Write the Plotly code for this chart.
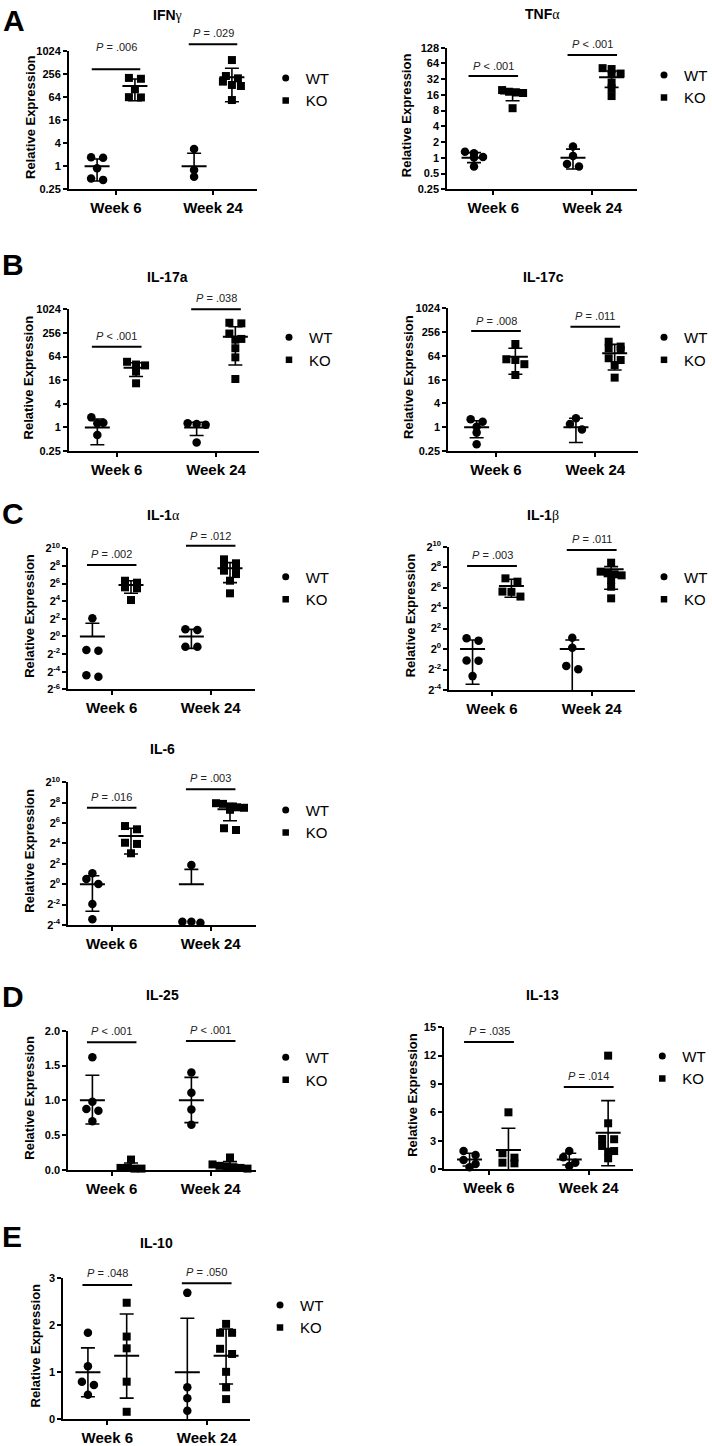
import numpy as np
import plotly.graph_objects as go

W, H = 712, 1446
FONT = "Liberation Sans, Arial, sans-serif"
SERIF = "Liberation Serif, Times New Roman, serif"

# ------------------------------------------------------------------
# Data (relative expression)
# Order of MEAN / HI / LO lists: WT wk6, WT wk24, KO wk6, KO wk24
# HI / LO are the ends of the SD bars (None = bar end not drawn)
# ------------------------------------------------------------------
WEEKS = ["Week 6", "Week 24"]
GROUPS = ["WT", "KO"]

# A - IFN-gamma
IFNG_WT6 = [1.70, 1.65, 0.88, 0.44, 0.48]
IFNG_WT24 = [2.81, 0.80, 0.53]
IFNG_KO6 = [200, 190, 101, 63, 62]
IFNG_KO24 = [584, 224, 195, 160, 131, 123, 53]
IFNG_MEAN = [1.0, 1.0, 123, 208]
IFNG_HI = [1.54, 2.17, 187, 357]
IFNG_LO = [0.41, None, 50.9, 47.8]
IFNG_P = ["= .006", "= .029"]

# A - TNF-alpha
TNFA_WT6 = [1.31, 1.22, 1.04, 1.02, 0.68]
TNFA_WT24 = [1.64, 1.09, 0.68, 0.76]
TNFA_KO6 = [19.8, 18.4, 17.8, 17.4, 8.9]
TNFA_KO24 = [52, 50, 41, 40, 27.5, 21.4, 15.2]
TNFA_MEAN = [1.0, 1.0, 17.1, 34.8]
TNFA_HI = [1.26, 1.47, 20.5, 45.9]
TNFA_LO = [0.81, 0.61, 12.4, 22.3]
TNFA_P = ["&lt; .001", "&lt; .001"]

# B - IL-17a
IL17A_WT6 = [1.80, 1.32, 1.27, 0.64]
IL17A_WT24 = [1.27, 1.22, 1.17, 0.41]
IL17A_KO6 = [47, 40, 38, 26.4, 13.3]
IL17A_KO24 = [465, 449, 247, 180, 172, 104, 61, 17.1]
IL17A_MEAN = [1.0, 1.0, 33.1, 205]
IL17A_HI = [1.64, 1.35, 44.6, 367]
IL17A_LO = [0.36, 0.62, 19.8, 38.9]
IL17A_P = ["&lt; .001", "= .038"]

# B - IL-17c
IL17C_WT6 = [1.59, 1.38, 1.03, 0.73, 0.37]
IL17C_WT24 = [1.68, 1.21, 0.88]
IL17C_KO6 = [128, 52.4, 50.2, 39.4, 21.0]
IL17C_KO24 = [146, 110, 99.7, 90.5, 55.7, 50.2, 37.5, 18.0]
IL17C_MEAN = [1.0, 1.0, 61, 74.5]
IL17C_HI = [1.46, 1.68, 99.7, 125]
IL17C_LO = [0.54, 0.41, 21.9, 28.0]
IL17C_P = ["= .008", "= .011"]

# C - IL-1alpha
IL1A_WT6 = [4.14, 0.325, 0.344, 0.042, 0.047]
IL1A_WT24 = [1.66, 1.75, 0.44, 0.445]
IL1A_KO6 = [68.6, 79.9, 44.0, 47.5, 17.5]
IL1A_KO24 = [430, 315, 274, 239, 176, 135, 80, 29.7]
IL1A_MEAN = [1.0, 1.0, 56.9, 212]
IL1A_HI = [2.81, 1.74, 79.9, 331]
IL1A_LO = [None, 0.39, 29.7, 68.6]
IL1A_P = ["= .002", "= .012"]

# C - IL-1beta
IL1B_WT6 = [2.07, 1.77, 0.46, 0.455, 0.16]
IL1B_WT24 = [2.16, 1.10, 0.255, 0.32]
IL1B_KO6 = [120, 96, 49, 48, 35]
IL1B_KO24 = [347, 189, 169, 158, 147, 108, 68, 31]
IL1B_MEAN = [1.0, 1.0, 71.5, 221]
IL1B_HI = [1.85, 1.85, 113, 265]
IL1B_LO = [0.092, 0.01, 33.4, 57.3]
IL1B_P = ["= .003", "= .011"]

# C - IL-6
IL6_WT6 = [2.10, 1.42, 1.01, 0.26, 0.092]
IL6_WT24 = [3.68, 0.073, 0.078, 0.078]
IL6_KO6 = [52.3, 41.9, 16.8, 15.5, 8.2]
IL6_KO24 = [247, 236, 194, 187, 181, 158, 45, 40]
IL6_MEAN = [1.0, 1.0, 26.5, 163]
IL6_HI = [1.78, 2.75, 44.9, 246]
IL6_LO = [0.16, None, 7.8, 75]
IL6_P = ["= .016", "= .003"]

# D - IL-25
IL25_WT6 = [1.62, 0.98, 0.875, 0.85, 0.70]
IL25_WT24 = [1.40, 1.11, 0.87, 0.65]
IL25_KO6 = [0.15, 0.03, 0.03, 0.02, 0.02]
IL25_KO24 = [0.18, 0.08, 0.06, 0.05, 0.04, 0.03, 0.02]
IL25_MEAN = [1.0, 1.0, 0.05, 0.065]
IL25_HI = [1.36, 1.33, 0.10, 0.12]
IL25_LO = [0.66, 0.68, 0.0, 0.01]
IL25_P = ["&lt; .001", "&lt; .001"]

# D - IL-13
IL13_WT6 = [1.91, 1.48, 0.95, 0.53, 0.18]
IL13_WT24 = [1.90, 1.24, 0.67, 0.32]
IL13_KO6 = [6.0, 1.66, 1.20, 0.60, 0.67]
IL13_KO24 = [12.0, 4.84, 3.18, 3.15, 2.44, 1.90, 1.83, 1.13]
IL13_MEAN = [1.0, 1.0, 2.01, 3.85]
IL13_HI = [1.66, 1.66, 4.31, 7.24]
IL13_LO = [0.32, 0.42, -0.29, 0.35]
IL13_P = ["= .035", "= .014"]

# E - IL-10
IL10_WT6 = [1.84, 1.13, 0.80, 0.73, 0.52]
IL10_WT24 = [2.69, 0.68, 0.45, 0.18]
IL10_KO6 = [2.48, 1.76, 1.51, 0.80, 0.16]
IL10_KO24 = [2.03, 1.84, 1.84, 1.50, 1.39, 1.01, 0.68, 0.43]
IL10_MEAN = [1.0, 1.0, 1.35, 1.35]
IL10_HI = [1.52, 2.15, 2.24, 1.92]
IL10_LO = [0.48, -0.15, 0.45, 0.75]
IL10_P = ["= .048", "= .050"]

# ------------------------------------------------------------------
# Layout description (pixel geometry of each panel)
# geo = (x axis left, week6 tick, week24 tick, x axis right, y top, y bottom)
# ------------------------------------------------------------------
def greek(base, ch):
    return f"{base}<span style='font-family:{SERIF};font-weight:normal'>{ch}</span>"

PANELS = [
    dict(title=greek("IFN", "γ"), data=(IFNG_WT6, IFNG_WT24, IFNG_KO6, IFNG_KO24),
         mean=IFNG_MEAN, hi=IFNG_HI, lo=IFNG_LO, p=IFNG_P,
         geo=(69, 116, 213, 257, 50.7, 189.3), scale=("log", -2, 10, 2, "dec"),
         title_xy=(167, 15), ytitle_x=30, legend_xy=(291.7, 78),
         sig=((69.3, 46.7), (44.3, 33.3))),
    dict(title=greek("TNF", "α"), data=(TNFA_WT6, TNFA_WT24, TNFA_KO6, TNFA_KO24),
         mean=TNFA_MEAN, hi=TNFA_HI, lo=TNFA_LO, p=TNFA_P,
         geo=(447.3, 493.3, 592.3, 637.3, 47.7, 189.3), scale=("log", -2, 7, 1, "dec"),
         title_xy=(542.7, 14), ytitle_x=406.7, legend_xy=(670, 75),
         sig=((76, 65.7), (55, 44.3))),
    dict(title="IL-17a", data=(IL17A_WT6, IL17A_WT24, IL17A_KO6, IL17A_KO24),
         mean=IL17A_MEAN, hi=IL17A_HI, lo=IL17A_LO, p=IL17A_P,
         geo=(69, 116.7, 216, 259, 309.3, 451), scale=("log", -2, 10, 2, "dec"),
         title_xy=(167, 276.7), ytitle_x=28.3, legend_xy=(295, 337.3),
         sig=((346.7, 336), (309.3, 298.3))),
    dict(title="IL-17c", data=(IL17C_WT6, IL17C_WT24, IL17C_KO6, IL17C_KO24),
         mean=IL17C_MEAN, hi=IL17C_HI, lo=IL17C_LO, p=IL17C_P,
         geo=(448.3, 496, 595.3, 638.3, 308.3, 451), scale=("log", -2, 10, 2, "dec"),
         title_xy=(543, 276.7), ytitle_x=408.3, legend_xy=(670, 337.3),
         sig=((331, 320.7), (326.7, 316))),
    dict(title=greek("IL-1", "α"), data=(IL1A_WT6, IL1A_WT24, IL1A_KO6, IL1A_KO24),
         mean=IL1A_MEAN, hi=IL1A_HI, lo=IL1A_LO, p=IL1A_P,
         geo=(68.3, 111.7, 210.7, 255, 548.3, 689.3), scale=("log", -6, 10, 2, "pow"),
         title_xy=(163, 515), ytitle_x=30, legend_xy=(291.7, 576.7),
         sig=((565, 554.3), (545.7, 536))),
    dict(title=greek("IL-1", "β"), data=(IL1B_WT6, IL1B_WT24, IL1B_KO6, IL1B_KO24),
         mean=IL1B_MEAN, hi=IL1B_HI, lo=IL1B_LO, p=IL1B_P,
         geo=(449.3, 492, 591.7, 635, 546.7, 690), scale=("log", -4, 10, 2, "pow"),
         title_xy=(542.7, 515), ytitle_x=410, legend_xy=(670, 576.7),
         sig=((566, 555), (550, 539.3))),
    dict(title="IL-6", data=(IL6_WT6, IL6_WT24, IL6_KO6, IL6_KO24),
         mean=IL6_MEAN, hi=IL6_HI, lo=IL6_LO, p=IL6_P,
         geo=(68.3, 111.7, 210.7, 256, 782.3, 925), scale=("log", -4, 10, 2, "pow"),
         title_xy=(162.3, 749.3), ytitle_x=30, legend_xy=(291.7, 810),
         sig=((807.7, 796.7), (789.3, 778.3))),
    dict(title="IL-25", data=(IL25_WT6, IL25_WT24, IL25_KO6, IL25_KO24),
         mean=IL25_MEAN, hi=IL25_HI, lo=IL25_LO, p=IL25_P,
         geo=(68.3, 111.7, 210.7, 256, 1030.7, 1170), scale=("lin", 0, 2, 0.5, ".1f"),
         title_xy=(162.3, 995), ytitle_x=29.3, legend_xy=(291.7, 1057.3),
         sig=((1042.3, 1031), (1041, 1030))),
    dict(title="IL-13", data=(IL13_WT6, IL13_WT24, IL13_KO6, IL13_KO24),
         mean=IL13_MEAN, hi=IL13_HI, lo=IL13_LO, p=IL13_P,
         geo=(444.3, 489, 588.7, 633.3, 1027.3, 1169), scale=("lin", 0, 15, 3, "d"),
         title_xy=(542, 995), ytitle_x=411.7, legend_xy=(668.3, 1056),
         sig=((1042, 1031), (1087, 1076))),
    dict(title="IL-10", data=(IL10_WT6, IL10_WT24, IL10_KO6, IL10_KO24),
         mean=IL10_MEAN, hi=IL10_HI, lo=IL10_LO, p=IL10_P,
         geo=(63.3, 107.3, 206.7, 250, 1278.3, 1419.3), scale=("lin", 0, 3, 1, "d"),
         title_xy=(156.7, 1243.3), ytitle_x=35.7, legend_xy=(286, 1305),
         sig=((1285, 1273.3), (1283.3, 1271.7))),
]

LETTERS = [("A", 14, 21), ("B", 13.3, 264), ("C", 13, 513), ("D", 13, 996.7), ("E", 12, 1236.7)]

GROUP_OFF = 0.195
MARK = {"WT": dict(symbol="circle", size=8.5), "KO": dict(symbol="square", size=8)}


def px(y):
    return 1 - y / H


def spread(vals, is_log, ypx_per_unit, xpx_per_unit):
    t = np.log2(np.array(vals, float)) if is_log else np.array(vals, float)
    order = np.argsort(-t)
    clusters = []
    for idx in order:
        if clusters and (t[clusters[-1][0]] - t[idx]) * ypx_per_unit < 5.5:
            clusters[-1].append(idx)
        else:
            clusters.append([idx])
    off = np.zeros(len(t))
    for c in clusters:
        n = len(c)
        gap = 12 if n == 2 else (9 if n == 3 else 7)
        for j, idx in enumerate(c):
            off[idx] = (j - (n - 1) / 2) * gap / xpx_per_unit
    return off


fig = go.Figure()
layout = dict(template="none", width=W, height=H,
              margin=dict(l=0, r=0, t=0, b=0, pad=0, autoexpand=False),
              paper_bgcolor="white", plot_bgcolor="white", hovermode=False,
              font=dict(family=FONT, color="black"))
annotations, shapes = [], []

for k, P in enumerate(PANELS, start=1):
    sfx = "" if k == 1 else str(k)
    xl, t6, t24, xr, yt, yb = P["geo"]
    ppu = t24 - t6
    kind, lo_, hi_, step, fmt = P["scale"]
    is_log = kind == "log"
    ypu = (yb - yt) / (hi_ - lo_)
    lg = "legend" + sfx

    # axes
    layout["xaxis" + sfx] = dict(
        domain=[xl / W, xr / W], range=[(xl - t6) / ppu, (xr - t6) / ppu],
        anchor="y" + sfx, showline=True, linewidth=2, linecolor="black", automargin=False,
        showgrid=False, zeroline=False, ticks="outside", ticklen=4, tickwidth=2,
        tickcolor="black", tickmode="array", tickvals=[0, 1], ticktext=WEEKS,
        tickfont=dict(family=FONT, size=15, color="black", weight="bold"), fixedrange=True)
    if is_log:
        exps = list(range(lo_, hi_ + 1, step))
        tv = [2.0 ** e for e in exps]
        tt = [f"2<sup>{e}</sup>" for e in exps] if fmt == "pow" else [f"{v:g}" for v in tv]
        yax = dict(type="log", range=[np.log10(2.0 ** lo_), np.log10(2.0 ** hi_)])
    else:
        tv = list(np.arange(lo_, hi_ + step / 2, step))
        tt = [format(v, fmt) if fmt == ".1f" else str(int(v)) for v in tv]
        yax = dict(type="linear", range=[lo_, hi_])
    yax.update(domain=[px(yb), px(yt)], anchor="x" + sfx, showline=True, linewidth=2,
               linecolor="black", showgrid=False, zeroline=False, ticks="outside",
               ticklen=4, tickwidth=1.6, tickcolor="black", tickmode="array",
               tickvals=tv, ticktext=tt, automargin=False,
               tickfont=dict(family=FONT, size=11, color="black", weight="bold"),
               fixedrange=True)
    layout["yaxis" + sfx] = yax

    # points
    for g, grp in enumerate(GROUPS):
        xs, ys = [], []
        for i in range(2):
            vals = P["data"][g * 2 + i]
            c = i + (GROUP_OFF if g else -GROUP_OFF)
            off = spread(vals, is_log, ypu, ppu)
            xs += list(c + off)
            ys += list(vals)
        fig.add_trace(go.Scatter(x=xs, y=ys, mode="markers", xaxis="x" + sfx, yaxis="y" + sfx,
                                 marker=dict(color="black", line=dict(width=0), **MARK[grp]),
                                 showlegend=False, cliponaxis=False, hoverinfo="skip"))
        # legend entry
        fig.add_trace(go.Scatter(x=[None], y=[None], mode="markers", name=grp,
                                 xaxis="x" + sfx, yaxis="y" + sfx, legend=lg,
                                 marker=dict(color="black", symbol=MARK[grp]["symbol"],
                                             size=MARK[grp]["size"] - 1.5),
                                 showlegend=True))

    # mean and SD bars
    mw, cw = 12.5 / ppu, 7 / ppu
    mx, my, ex, ey = [], [], [], []
    for g in range(2):
        for i in range(2):
            j = g * 2 + i
            c = i + (GROUP_OFF if g else -GROUP_OFF)
            m, h, l = P["mean"][j], P["hi"][j], P["lo"][j]
            mx += [c - mw, c + mw, None]; my += [m, m, None]
            ex += [c, c, None]; ey += [l if l is not None else m, h, None]
            ex += [c - cw, c + cw, None]; ey += [h, h, None]
            if l is not None:
                ex += [c - cw, c + cw, None]; ey += [l, l, None]
    fig.add_trace(go.Scatter(x=mx, y=my, mode="lines", xaxis="x" + sfx, yaxis="y" + sfx,
                             line=dict(color="black", width=2), showlegend=False,
                             hoverinfo="skip"))
    fig.add_trace(go.Scatter(x=ex, y=ey, mode="lines", xaxis="x" + sfx, yaxis="y" + sfx,
                             line=dict(color="black", width=1.6), showlegend=False,
                             hoverinfo="skip"))

    # significance bars
    for i, (ly, ty) in enumerate(P["sig"]):
        shapes.append(dict(type="line", xref="x" + sfx, yref="paper", x0=i - 0.25, x1=i + 0.25,
                           y0=px(ly), y1=px(ly), line=dict(color="black", width=2)))
        annotations.append(dict(xref="x" + sfx, yref="paper", x=i, y=px(ty), showarrow=False,
                                text=f"<i>P</i> {P['p'][i]}", xanchor="center",
                                yanchor="middle", font=dict(family=FONT, size=11, color="#222")))

    # titles
    tx, ty = P["title_xy"]
    annotations.append(dict(xref="paper", yref="paper", x=tx / W, y=px(ty), showarrow=False,
                            text=P["title"], xanchor="center", yanchor="middle",
                            font=dict(family=FONT, size=14, color="black", weight="bold")))
    annotations.append(dict(xref="paper", yref="paper", x=P["ytitle_x"] / W,
                            y=px((yt + yb) / 2 - 3), showarrow=False, textangle=-90,
                            text="Relative Expression", xanchor="center",
                            yanchor="middle",
                            font=dict(family=FONT, size=13, color="black", weight="bold")))

    lx, lyy = P["legend_xy"]
    layout[lg] = dict(x=(lx - 26) / W, y=px(lyy - 16.25), xanchor="left", yanchor="top",
                      bgcolor="rgba(0,0,0,0)", borderwidth=0, tracegroupgap=0,
                      font=dict(family=FONT, size=15, color="black"))

for letter, lx, ly in LETTERS:
    annotations.append(dict(xref="paper", yref="paper", x=lx / W, y=px(ly), showarrow=False,
                            text=letter, xanchor="center", yanchor="middle",
                            font=dict(family=FONT, size=30, color="black", weight="bold")))

layout["annotations"] = annotations
layout["shapes"] = shapes
fig.update_layout(**layout)

fig.write_html("out.html", config={"displayModeBar": False},
               post_script="document.body.style.margin='0';")
